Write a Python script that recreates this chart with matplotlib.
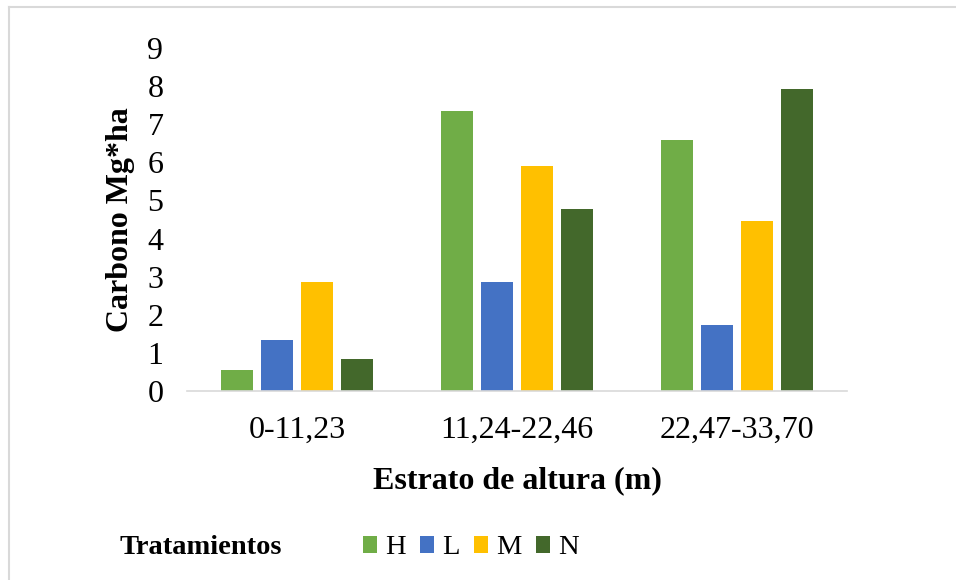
import matplotlib
matplotlib.use("Agg")
import matplotlib.pyplot as plt
import numpy as np
from matplotlib.lines import Line2D
from matplotlib.patches import Patch

# carbono por estrato de altura y tratamiento
estratos = ["0-11,23", "11,24-22,46", "22,47-33,70"]
tratamientos = ["H", "L", "M", "N"]
H = [0.55, 7.35, 6.59]
L = [1.34, 2.86, 1.73]
M = [2.86, 5.90, 4.46]
N = [0.84, 4.78, 7.93]
colores = ["#70AD47", "#4472C4", "#FFC000", "#43682B"]

plt.rcParams["font.family"] = ["Liberation Serif", "DejaVu Serif"]

fig = plt.figure(figsize=(9.56, 5.8), dpi=100)
ax = fig.add_axes([0.1956, 0.3259, 0.6904, 0.5913])

x = np.arange(len(estratos))
step = 0.182
width = 0.145
for i, (serie, color) in enumerate(zip([H, L, M, N], colores)):
    ax.bar(x + (i - 1.5) * step, serie, width, color=color, label=tratamientos[i])

ax.set_xlim(-0.5, 2.5)
ax.set_ylim(0, 9)
ax.set_yticks(range(10))
ax.set_xticks(x)
ax.set_xticklabels(estratos)
ax.tick_params(axis="both", length=0, labelsize=23)
ax.tick_params(axis="y", pad=17)
ax.tick_params(axis="x", pad=18)
for s in ["top", "right", "left"]:
    ax.spines[s].set_visible(False)
ax.spines["bottom"].set_color("#D9D9D9")
ax.spines["bottom"].set_linewidth(1.2)

ax.set_ylabel("Carbono Mg*ha", fontsize=23, fontweight="bold", labelpad=9)
ax.set_xlabel("Estrato de altura (m)", fontsize=23, fontweight="bold", labelpad=15)

# leyenda
fig.text(120 / 956, 1 - 548 / 580, "Tratamientos", fontsize=20.5, fontweight="bold",
         va="center", ha="left")
handles = [Patch(facecolor=c, edgecolor="none") for c in colores]
fig.legend(handles, tratamientos, loc="center left", ncol=4,
           bbox_to_anchor=(363 / 956, 1 - 548 / 580), frameon=False,
           fontsize=20.5, handlelength=0.5, handleheight=0.5,
           handletextpad=0.28, columnspacing=0.5, borderaxespad=0, borderpad=0)

# marco del gráfico
fig.add_artist(Line2D([9 / 956, 1], [1 - 7 / 580, 1 - 7 / 580], color="#D9D9D9", lw=1.5))
fig.add_artist(Line2D([9 / 956, 9 / 956], [0, 1 - 7 / 580], color="#D9D9D9", lw=1.5))

fig.savefig("out.png", dpi=100)
